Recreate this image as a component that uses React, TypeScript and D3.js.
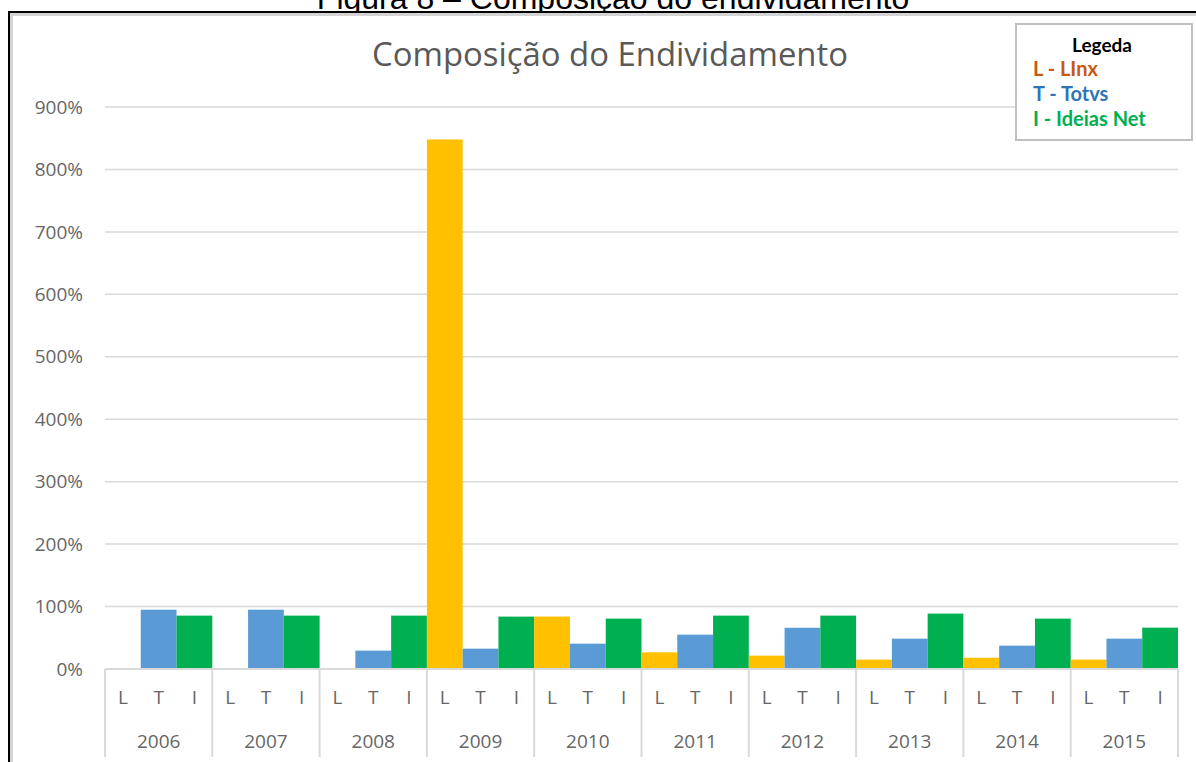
import React, { useEffect, useRef } from 'react';
import * as d3 from 'd3';

const years = ['2006', '2007', '2008', '2009', '2010', '2011', '2012', '2013', '2014', '2015'];
const companies = ['L', 'T', 'I'];
const linx = [null, null, null, 848, 84, 26.7, 21.4, 15, 18, 15];
const totvs = [95, 95, 29.4, 32.6, 40.6, 55, 66, 48.6, 37.4, 48.6];
const ideias = [85.5, 85.5, 85.5, 83.9, 80.7, 85.5, 85.5, 88.7, 80.7, 66.2];
const yTicks = [0, 100, 200, 300, 400, 500, 600, 700, 800, 900];
const legendItems = ['L - LInx', 'T - Totvs', 'I - Ideias Net'];

const barColors = ['#FFC000', '#5B9BD5', '#00B050'];
const legendColors = ['#C55A11', '#2E75B6', '#00B050'];

const W = 1196;
const H = 762;

export default function App() {
  const ref = useRef<SVGSVGElement>(null);

  useEffect(() => {
    const svg = d3.select(ref.current);
    svg.selectAll('*').remove();

    const x = d3.scaleBand().domain(years).range([105, 1178]).padding(0);
    const xi = d3.scaleBand().domain(companies).range([0, x.bandwidth()]).padding(0);
    const y = d3.scaleLinear().domain([0, 900]).range([669, 107]);

    // caption above the frame (cut off at the top in the source)
    svg.append('text')
      .attr('x', 613).attr('y', 9)
      .attr('text-anchor', 'middle')
      .attr('font-family', 'Liberation Sans, Arial, sans-serif')
      .attr('font-size', 32)
      .attr('fill', '#000')
      .text('Figura 8 – Composição do endividamento');

    // frame
    svg.append('rect').attr('x', 10).attr('y', 13).attr('width', W).attr('height', H)
      .attr('fill', '#fff');
    svg.append('path')
      .attr('d', `M11.5,${H} L11.5,14.5 L${W},14.5`)
      .attr('fill', 'none').attr('stroke', '#d4d4d4').attr('stroke-width', 3);
    svg.append('path')
      .attr('d', `M9,${H} L9,12 L${W},12`)
      .attr('fill', 'none').attr('stroke', '#000').attr('stroke-width', 2);

    // title
    svg.append('text')
      .attr('x', 610).attr('y', 66)
      .attr('text-anchor', 'middle')
      .attr('font-family', 'Open Sans, sans-serif')
      .attr('font-size', 33)
      .attr('fill', '#595959')
      .attr('textLength', 476)
      .attr('lengthAdjust', 'spacingAndGlyphs')
      .text('Composição do Endividamento');

    // gridlines
    svg.append('g').selectAll('line')
      .data(yTicks.filter(d => d > 0))
      .join('line')
      .attr('x1', 105).attr('x2', 1178)
      .attr('y1', d => y(d)).attr('y2', d => y(d))
      .attr('stroke', '#D9D9D9').attr('stroke-width', 1.5);

    // y labels
    svg.append('g').selectAll('text')
      .data(yTicks)
      .join('text')
      .attr('x', 83).attr('y', d => y(d))
      .attr('dy', '0.35em')
      .attr('text-anchor', 'end')
      .attr('font-family', 'Open Sans, sans-serif')
      .attr('font-size', 19)
      .attr('fill', '#666')
      .text(d => `${d}%`);

    // bars
    const series = [linx, totvs, ideias];
    const rows = years.flatMap((yr, i) =>
      companies.map((c, k) => ({ yr, c, k, v: series[k][i] })));
    svg.append('g').selectAll('rect')
      .data(rows.filter(r => r.v != null))
      .join('rect')
      .attr('x', r => (x(r.yr) as number) + (xi(r.c) as number))
      .attr('width', xi.bandwidth())
      .attr('y', r => y(r.v as number))
      .attr('height', r => y(0) - y(r.v as number))
      .attr('fill', r => barColors[r.k]);

    // category axis
    svg.append('line')
      .attr('x1', 105).attr('x2', 1178)
      .attr('y1', y(0)).attr('y2', y(0))
      .attr('stroke', '#D9D9D9').attr('stroke-width', 2);

    const bounds = years.map(yr => x(yr) as number).concat([1178]);
    svg.append('g').selectAll('line')
      .data(bounds)
      .join('line')
      .attr('x1', d => d).attr('x2', d => d)
      .attr('y1', y(0)).attr('y2', 757)
      .attr('stroke', '#D9D9D9').attr('stroke-width', 2);

    svg.append('g').selectAll('text')
      .data(rows)
      .join('text')
      .attr('x', r => (x(r.yr) as number) + (xi(r.c) as number) + xi.bandwidth() / 2)
      .attr('y', 697)
      .attr('dy', '0.35em')
      .attr('text-anchor', 'middle')
      .attr('font-family', 'Open Sans, sans-serif')
      .attr('font-size', 19)
      .attr('fill', '#666')
      .text(r => r.c);

    svg.append('g').selectAll('text')
      .data(years)
      .join('text')
      .attr('x', d => (x(d) as number) + x.bandwidth() / 2)
      .attr('y', 741)
      .attr('dy', '0.35em')
      .attr('text-anchor', 'middle')
      .attr('font-family', 'Open Sans, sans-serif')
      .attr('font-size', 19)
      .attr('fill', '#666')
      .text(d => d);

    // legend box
    const lg = svg.append('g');
    lg.append('rect')
      .attr('x', 1016).attr('y', 24)
      .attr('width', 176).attr('height', 116)
      .attr('fill', '#fff').attr('stroke', '#BFBFBF').attr('stroke-width', 2);
    lg.append('text')
      .attr('x', 1102).attr('y', 52)
      .attr('text-anchor', 'middle')
      .attr('font-family', 'Lato, sans-serif')
      .attr('font-weight', 'bold')
      .attr('font-size', 19)
      .attr('fill', '#000')
      .text('Legeda');
    lg.selectAll('text.item')
      .data(legendItems)
      .join('text')
      .attr('class', 'item')
      .attr('x', 1033)
      .attr('y', (d, i) => 76 + i * 25)
      .attr('font-family', 'Lato, sans-serif')
      .attr('font-weight', 'bold')
      .attr('font-size', 20)
      .attr('fill', (d, i) => legendColors[i])
      .text(d => d);
  }, []);

  return (
    <div style={{ position: 'absolute', left: 0, top: 0 }}>
      <svg ref={ref} width={W} height={H} viewBox={`0 0 ${W} ${H}`} style={{ display: 'block', background: '#fff' }} />
    </div>
  );
}
